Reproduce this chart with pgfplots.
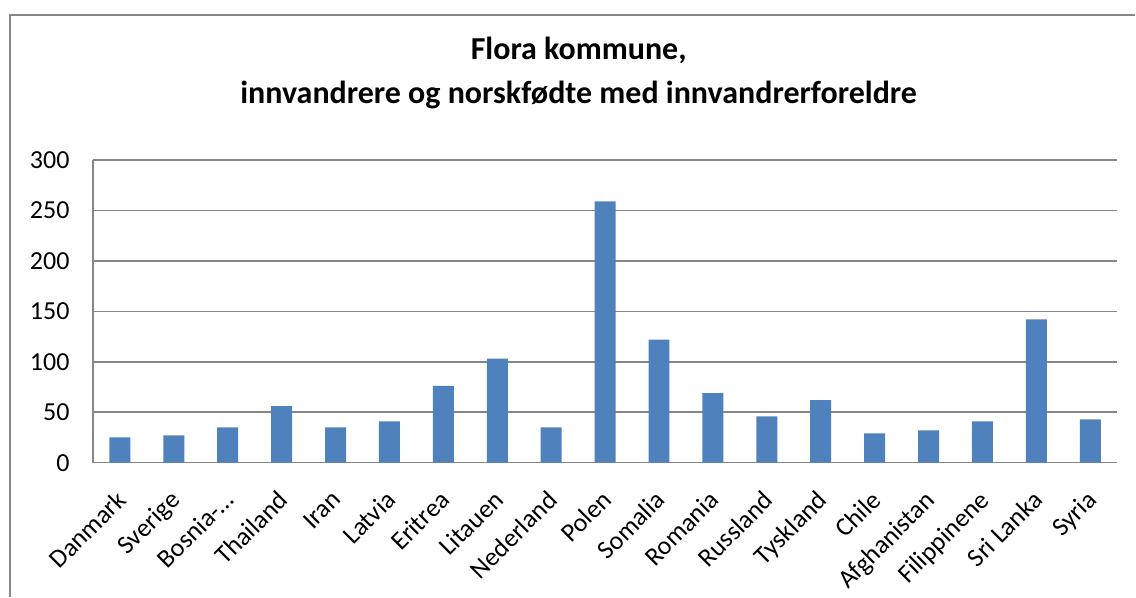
\documentclass[border=0pt]{standalone}
\usepackage{pgfplots}
\pgfplotsset{compat=1.18}
\usepackage{fontspec}
\setmainfont{Carlito}
\definecolor{barblue}{HTML}{4F81BD}
\definecolor{gridgray}{HTML}{878787}
\begin{document}
\begin{tikzpicture}[x=1pt,y=1pt]
\path (0,0) rectangle (1136,597);
\draw[gridgray, line width=1.5pt] (10,0) -- (10,582) -- (1136,582);
\node[font=\fontsize{32}{38}\selectfont\bfseries] at (579,547) {Flora kommune,};
\node[font=\fontsize{32}{38}\selectfont\bfseries] at (579,502) {innvandrere og norskfødte med innvandrerforeldre};
\begin{axis}[
  at={(93pt,134pt)}, anchor=south west,
  scale only axis, width=1025pt, height=303pt,
  ymin=0, ymax=300, ytick={0,50,...,300},
  xmin=-0.5, xmax=18.5, xtick={0,...,18},
  xticklabels={Danmark,Sverige,Bosnia-…,Thailand,Iran,Latvia,Eritrea,Litauen,Nederland,Polen,Somalia,Romania,Russland,Tyskland,Chile,Afghanistan,Filippinene,Sri Lanka,Syria},
  ybar, bar width=21pt,
  axis x line*=bottom, axis y line*=left,
  ymajorgrids, grid style={gridgray, line width=1.5pt},
  axis line style={gridgray, line width=1.5pt},
  major tick length=0pt,
  tick label style={font=\fontsize{26}{31}\selectfont, text=black},
  /pgf/number format/assume math mode=true,
  yticklabel style={xshift=-20pt},
  xticklabel style={rotate=45, anchor=north east, inner sep=2pt, xshift=-20pt, yshift=-13pt},
  clip=false,
]
\addplot[fill=barblue, draw=none] coordinates {
(0,25) (1,27) (2,35) (3,56) (4,35) (5,41) (6,76) (7,103) (8,35) (9,259)
(10,122) (11,69) (12,46) (13,62) (14,29) (15,32) (16,41) (17,142) (18,43)
};
\end{axis}
\end{tikzpicture}
\end{document}
